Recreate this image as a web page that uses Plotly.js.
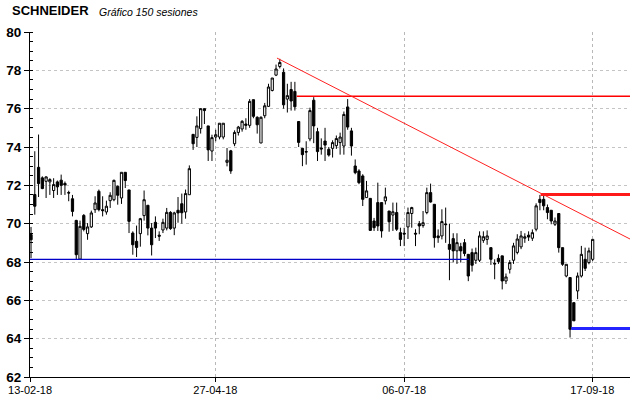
<!DOCTYPE html>
<html><head><meta charset="utf-8">
<script src="https://cdn.plot.ly/plotly-3.0.1.min.js"></script>
<style>html,body{margin:0;padding:0;background:#fff;} #chart{width:640px;height:398px;}</style>
</head><body><div id="chart"></div>
<script>
// OHLC for the 150 sessions
const openP = [
69.43,71.52,72.94,72.39,72.21,72.18,71.73,72.18,72.27,72.10,
71.62,71.30,70.17,68.15,70.43,69.48,69.83,70.73,71.69,70.73,
70.61,71.20,71.25,71.95,71.34,72.68,71.76,69.51,69.08,69.48,
70.42,70.96,69.77,70.07,69.40,69.67,69.77,70.59,69.77,70.70,
71.04,70.61,71.51,74.66,74.50,74.96,76.00,75.10,73.79,74.52,
74.52,74.52,73.20,73.80,74.17,74.76,74.94,75.20,75.13,76.47,
75.55,74.21,75.63,76.12,76.95,77.75,78.20,77.90,76.50,77.00,
76.90,75.33,73.93,73.76,74.42,76.44,74.80,73.95,74.31,73.88,
73.93,74.07,74.23,74.05,76.09,74.84,73.01,72.75,72.49,71.36,
71.32,70.14,71.10,71.10,71.19,70.66,70.45,70.58,69.53,69.50,
69.83,70.53,69.50,70.00,69.90,70.58,71.62,71.01,69.36,69.36,
69.98,68.92,69.22,68.58,68.80,69.01,68.40,68.49,68.09,68.09,
69.13,69.18,68.75,67.93,68.19,68.32,67.01,67.62,68.09,68.50,
68.79,69.24,69.40,69.24,69.71,71.27,71.27,70.84,70.70,69.97,
70.53,68.75,67.27,67.19,65.88,66.49,67.27,68.14,67.97,68.14];
const highP = [
69.83,73.78,74.65,72.47,72.47,72.37,72.37,72.25,72.56,72.20,
71.72,71.50,70.20,70.16,70.50,70.03,70.68,71.43,71.78,71.43,
71.20,71.64,72.30,72.00,72.68,72.68,71.76,69.60,69.90,70.30,
71.73,70.96,70.03,70.38,69.60,70.26,70.82,70.65,70.62,71.39,
71.57,71.78,73.04,74.66,75.60,76.00,76.00,75.10,74.64,74.90,
75.24,75.24,73.95,73.85,74.87,75.10,75.40,75.50,76.50,76.47,
75.60,75.60,76.30,77.30,77.60,78.30,78.60,78.10,77.30,77.40,
77.40,75.33,73.93,74.30,76.05,76.60,75.00,74.45,75.00,74.00,
74.35,74.60,74.75,75.85,76.50,75.00,73.35,72.84,72.58,72.23,
71.32,70.30,72.14,71.10,71.88,70.66,71.10,71.10,69.79,69.79,
70.84,70.88,69.71,70.14,70.66,71.88,72.09,71.01,69.70,70.75,
70.84,70.00,69.50,69.50,69.00,69.20,68.40,68.70,68.75,69.60,
69.60,69.65,68.75,68.14,68.40,68.32,67.40,68.10,69.00,69.45,
69.62,69.50,69.60,69.70,71.06,71.50,71.45,71.00,70.70,70.32,
70.53,68.75,67.88,67.19,65.88,67.45,68.84,68.75,68.75,69.18];
const lowP = [
68.20,70.47,71.39,71.80,71.34,71.50,71.34,71.50,71.50,71.50,
71.17,70.38,68.15,68.15,69.60,69.16,69.78,70.56,70.64,70.38,
70.47,70.82,71.17,70.99,71.03,71.86,69.51,68.38,68.26,68.80,
70.16,69.39,68.34,69.25,69.10,69.51,69.65,69.68,69.40,70.05,
70.00,70.26,71.51,73.85,74.00,74.70,75.20,73.27,73.27,74.30,
74.40,74.40,72.99,72.60,74.04,74.60,74.80,74.90,75.00,75.50,
74.70,74.20,75.50,76.10,76.90,77.70,78.10,76.00,75.80,75.90,
75.90,74.00,73.00,73.08,74.30,74.20,73.27,73.60,73.27,73.50,
73.45,73.90,73.60,73.60,74.90,73.55,72.58,72.06,70.92,71.36,
69.62,69.62,69.62,69.27,71.00,69.58,69.62,69.62,68.83,68.83,
69.20,69.79,68.83,69.45,69.79,70.49,71.10,68.75,69.00,69.18,
69.00,67.05,67.98,67.90,67.97,68.30,67.00,67.50,67.90,68.00,
69.00,68.90,67.85,67.10,67.90,66.57,66.85,67.40,67.90,68.40,
68.67,69.00,69.10,69.10,69.60,70.70,70.70,70.23,69.97,69.88,
68.49,67.80,67.20,64.06,64.93,66.06,67.19,67.53,67.88,68.05];
const closeP = [
69.16,70.91,72.09,71.83,72.44,72.30,72.04,71.92,72.00,72.02,
71.60,70.64,68.38,69.86,69.70,69.83,70.56,71.08,70.73,70.68,
70.91,71.48,72.26,71.48,72.68,72.25,70.12,68.90,68.76,70.26,
71.25,69.77,68.90,69.77,69.35,70.07,70.59,69.74,70.56,70.56,
70.57,71.57,72.87,74.17,75.10,76.00,75.90,73.85,74.49,74.64,
75.24,75.24,73.31,72.75,74.76,75.04,75.34,75.13,76.38,75.60,
75.16,75.55,76.15,77.13,77.60,78.07,78.41,76.20,76.68,76.40,
76.10,74.24,73.60,73.74,75.90,75.10,73.76,73.90,74.10,73.58,
74.23,74.44,74.52,75.70,75.04,74.05,72.66,72.14,71.27,71.71,
69.65,69.79,69.88,69.62,71.40,70.10,70.62,69.71,69.18,69.46,
70.58,70.84,69.46,69.88,70.05,71.62,71.13,69.27,69.27,70.11,
69.95,68.66,68.58,69.01,68.58,68.44,67.27,67.83,68.49,69.36,
69.32,69.36,68.14,67.90,68.02,67.01,67.22,67.97,68.84,69.20,
69.36,69.31,69.30,69.53,70.93,71.10,70.93,70.58,70.14,70.14,
68.75,67.88,67.88,64.49,64.93,67.27,68.40,67.67,68.58,69.18];

const sessions = openP.map((_, i) => i);

// x-axis date labels and the session at which each sits
const tickLabels = ['13-02-18', '27-04-18', '06-07-18', '17-09-18'];
const tickSessions = [-0.26, 48.9, 99.0, 148.9];

// drawn lines (session, price)
const trendX = [65.25, 158.9], trendY = [78.64, 69.2];
const resHighX = [70.5, 158.9], resHighY = [76.65, 76.65];
const resLowX = [135.2, 158.9], resLowY = [71.52, 71.52];
const supHighX = [-0.27, 116.2], supHighY = [68.14, 68.14];
const supLowX = [143.3, 158.9], supLowY = [64.53, 64.53];

const xRange = [-0.27, 158.9];
const yRange = [62, 80];

const traces = [
  {type: 'candlestick', x: sessions, open: openP, high: highP, low: lowP, close: closeP,
   increasing: {line: {color: '#000', width: 1}, fillcolor: '#ffffff'},
   decreasing: {line: {color: '#000', width: 1}, fillcolor: '#000000'},
   whiskerwidth: 0, hoverinfo: 'skip', showlegend: false},
  {type: 'scatter', mode: 'lines', x: supHighX, y: supHighY, line: {color: '#0000c8', width: 1.2}, hoverinfo: 'skip'},
  {type: 'scatter', mode: 'lines', x: supLowX, y: supLowY, line: {color: '#2424ff', width: 3}, hoverinfo: 'skip'},
  {type: 'scatter', mode: 'lines', x: resHighX, y: resHighY, line: {color: '#ff0000', width: 1.5}, hoverinfo: 'skip'},
  {type: 'scatter', mode: 'lines', x: resLowX, y: resLowY, line: {color: '#ff1a1a', width: 3}, hoverinfo: 'skip'},
  {type: 'scatter', mode: 'lines', x: trendX, y: trendY, line: {color: '#ff2020', width: 1}, hoverinfo: 'skip'}
];

const layout = {
  width: 640, height: 398,
  margin: {l: 30, r: 10, t: 32, b: 21, pad: 0},
  paper_bgcolor: '#ffffff', plot_bgcolor: '#ffffff',
  showlegend: false,
  boxgap: 0.15,
  xaxis: {
    range: xRange, tickmode: 'array', tickvals: tickSessions, ticktext: tickLabels,
    ticks: 'outside', ticklen: 4, tickcolor: '#000', tickwidth: 1,
    ticklabelstandoff: -1,
    showline: true, linecolor: '#000', linewidth: 1, mirror: false,
    showgrid: true, gridcolor: '#b8b8b8', griddash: 'dot', gridwidth: 1,
    zeroline: false, rangeslider: {visible: false}, fixedrange: true,
    tickfont: {family: 'Liberation Sans, Arial, sans-serif', size: 11, color: '#000'}
  },
  yaxis: {
    range: yRange, tick0: 62, dtick: 2,
    ticks: 'outside', ticklen: 5, tickcolor: '#000', tickwidth: 1,
    minor: {dtick: 0.5, ticks: 'inside', ticklen: 3, tickcolor: '#000', showgrid: false},
    showline: true, linecolor: '#000', linewidth: 1,
    showgrid: true, gridcolor: '#c4c4c4', griddash: 'dot', gridwidth: 1,
    zeroline: false, fixedrange: true,
    tickfont: {family: 'Liberation Sans, Arial, sans-serif', size: 13.5, color: '#000', weight: 'bold'}
  },
  annotations: [
    {text: 'SCHNEIDER', xref: 'paper', yref: 'paper', x: -0.0333, y: 1.061, xanchor: 'left', yanchor: 'middle',
     showarrow: false, font: {family: 'Liberation Sans, Arial, sans-serif', size: 13, color: '#000', weight: 'bold'}},
    {text: 'Gráfico 150 sesiones', xref: 'paper', yref: 'paper', x: 0.1117, y: 1.058, xanchor: 'left', yanchor: 'middle',
     showarrow: false, font: {family: 'Liberation Sans, Arial, sans-serif', size: 10.5, color: '#000', style: 'italic'}}
  ]
};

Plotly.newPlot('chart', traces, layout, {staticPlot: true, displayModeBar: false});
</script>
</body></html>
